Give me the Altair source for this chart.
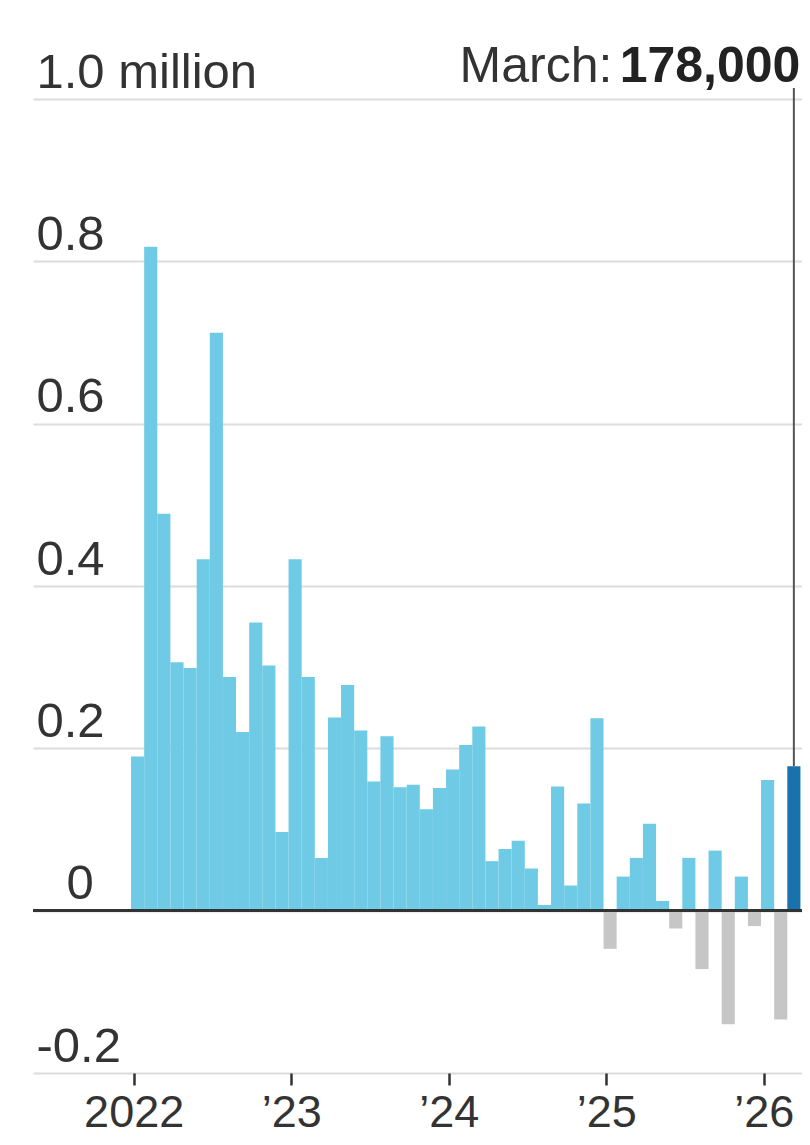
import altair as alt
import pandas as pd

months = [
    "2022-01", "2022-02", "2022-03", "2022-04", "2022-05", "2022-06",
    "2022-07", "2022-08", "2022-09", "2022-10", "2022-11", "2022-12",
    "2023-01", "2023-02", "2023-03", "2023-04", "2023-05", "2023-06",
    "2023-07", "2023-08", "2023-09", "2023-10", "2023-11", "2023-12",
    "2024-01", "2024-02", "2024-03", "2024-04", "2024-05", "2024-06",
    "2024-07", "2024-08", "2024-09", "2024-10", "2024-11", "2024-12",
    "2025-01", "2025-02", "2025-03", "2025-04", "2025-05", "2025-06",
    "2025-07", "2025-08", "2025-09", "2025-10", "2025-11", "2025-12",
    "2026-01", "2026-02", "2026-03",
]
# monthly change in payrolls, millions
jobs = [
    0.190, 0.818, 0.489, 0.306, 0.299, 0.433, 0.712, 0.288, 0.220, 0.355, 0.302, 0.097,
    0.433, 0.288, 0.065, 0.238, 0.278, 0.222, 0.159, 0.215, 0.152, 0.155, 0.125, 0.151,
    0.174, 0.204, 0.227, 0.061, 0.076, 0.086, 0.052, 0.007, 0.153, 0.031, 0.132, 0.237,
    -0.047, 0.042, 0.065, 0.107, 0.012, -0.022, 0.065, -0.072, 0.074, -0.140, 0.042, -0.019,
    0.161, -0.134, 0.178,
]
y_ticks = [-0.2, 0, 0.2, 0.4, 0.6, 0.8, 1.0]
year_starts = [0, 12, 24, 36, 48]

df = pd.DataFrame({"month": months, "jobs": jobs})
df["i"] = range(len(df))
df["x0"] = df["i"]
df["x1"] = df["i"] + 1
df["xm"] = df["i"] + 0.5
last_i = len(df) - 1
df["kind"] = [
    "latest" if i == last_i else ("neg" if v < 0 else "pos")
    for i, v in zip(df["i"], df["jobs"])
]

last = df.iloc[[last_i]].copy()
last["value_label"] = [f"{round(v * 1e6):,}" for v in last["jobs"]]
last["month_label"] = [pd.to_datetime(m).strftime("%B") + ":" for m in last["month"]]

FONT = "Liberation Sans"
TXT = "#333333"
W, H = 769, 974

xscale = alt.Scale(domain=[-7.47, 51.12], nice=False, zero=False)
yscale = alt.Scale(domain=[-0.2, 1.0], nice=False, zero=False)

bars = alt.Chart(df).mark_bar().encode(
    x=alt.X(
        "x0:Q",
        scale=xscale,
        title=None,
        axis=alt.Axis(
            values=[v + 0.2 for v in year_starts],
            labelExpr="floor(datum.value/12) == 0 ? '2022' : '\u2019' + (22 + floor(datum.value/12))",
            grid=False,
            domain=False,
            ticks=True,
            tickSize=12,
            tickWidth=2.5,
            tickColor=TXT,
            labelPadding=5,
            labelFontSize=45,
            labelFont=FONT,
            labelColor=TXT,
            labelBaseline="top",
            labelFlush=False,
            labelOverlap=False,
            labelLimit=0,
        ),
    ),
    x2="x1:Q",
    y=alt.Y(
        "jobs:Q",
        scale=yscale,
        title=None,
        axis=alt.Axis(
            values=y_ticks,
            labelExpr="datum.value == 1 ? '1.0 million' : datum.value == 0 ? '0' : (datum.value < 0 ? '-' : '') + format(abs(datum.value), '.1f')",
            ticks=False,
            domain=False,
            grid=True,
            gridColor="#dcdcdc",
            gridWidth=2,
            labelAlign="left",
            labelBaseline="alphabetic",
            labelPadding={"condition": {"test": "datum.value == 0", "value": -33}, "value": -3},
            labelOffset=-12,
            labelFontSize=49,
            labelFont=FONT,
            labelColor=TXT,
            labelFlush=False,
            labelOverlap=False,
            labelLimit=0,
        ),
    ),
    y2=alt.datum(0),
    color=alt.Color(
        "kind:N",
        scale=alt.Scale(domain=["pos", "neg", "latest"], range=["#6fcae6", "#c6c6c6", "#1872ab"]),
        legend=None,
    ),
)

zero = alt.Chart(df).mark_rule(color="#333333", strokeWidth=2.5).encode(
    y=alt.datum(0),
    x=alt.value(0),
    x2=alt.value(W),
)

pointer = alt.Chart(last).mark_rule(color="#555555", strokeWidth=2).encode(
    x=alt.X("xm:Q", scale=xscale, title=None),
    y=alt.Y("jobs:Q", scale=yscale, title=None),
    y2=alt.value(-11),
)

val_text = alt.Chart(last).mark_text(
    align="right", baseline="alphabetic", fontSize=50, fontWeight="bold", font=FONT, color="#222222", dx=0
).encode(
    x=alt.X("x1:Q", scale=xscale, title=None),
    y=alt.value(-17),
    text="value_label:N",
)

mon_text = alt.Chart(last).mark_text(
    align="right", baseline="alphabetic", fontSize=50, font=FONT, color=TXT, dx=-188
).encode(
    x=alt.X("x1:Q", scale=xscale, title=None),
    y=alt.value(-17),
    text="month_label:N",
)

chart = alt.layer(bars, zero, pointer, val_text, mon_text).properties(
    width=W,
    height=H,
    autosize=alt.AutoSizeParams(type="none"),
    padding={"left": 25, "top": 91, "right": 0, "bottom": 64},
).configure(background="white").configure_view(strokeWidth=0, stroke="transparent")

chart.save("out.html", embed_options={"renderer": "svg", "actions": False})
